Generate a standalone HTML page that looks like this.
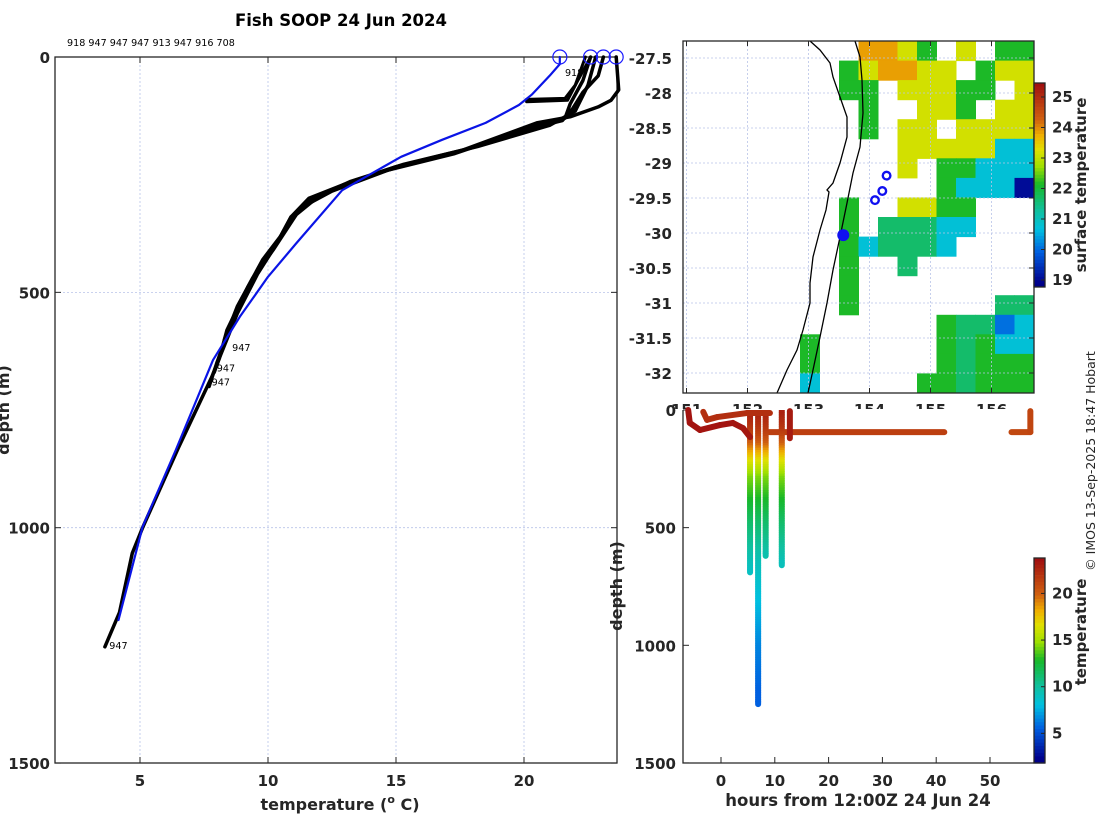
<!DOCTYPE html>
<html><head><meta charset="utf-8"><style>
html,body{margin:0;padding:0;background:#fff;}
svg{display:block;font-family:"DejaVu Sans","Liberation Sans",sans-serif;}
.tk{font-size:15px;font-weight:bold;fill:#262626;}
.ax{fill:none;stroke:#262626;stroke-width:1.3;}
.grid{stroke:#b8c4e8;stroke-width:0.8;stroke-dasharray:2,2;}
</style></head><body>
<svg id="fig" width="1100" height="820" viewBox="0 0 1100 820" xmlns="http://www.w3.org/2000/svg">
<text x="341" y="26" text-anchor="middle" font-size="16.5" font-weight="bold" fill="#000">Fish SOOP 24 Jun 2024</text>
<text x="67" y="46" font-size="9.6" fill="#000">918 947 947 947 913 947 916 708</text>
<g id="left"></g>
<g id="map"></g>
<g id="sect"></g>
<text transform="translate(1095,461) rotate(-90)" text-anchor="middle" font-size="12.5" fill="#262626">© IMOS 13-Sep-2025 18:47 Hobart</text>
</svg>
<script>
// ---------- data ----------
const tempTicks=[5,10,15,20];
const depthTicks=[0,500,1000,1500];
const blueTemp=[21.4,21.4,21.0,20.3,19.8,18.5,16.8,15.2,12.9,11.1,10.0,8.9,7.85,6.4,5.1,4.16];
const blueDepth=[0,15,40,80,102,140,176,212,283,396,467,552,644,835,998,1196];
const pATemp=[23.6,23.7,23.4,22.9,21.8,20.5,17.6,15.0,13.0,11.6,10.9,10.3,9.5,8.6,8.0,7.7];
const pADepth=[0,70,92,106,127,140,198,233,270,300,340,400,467,560,650,700];
const pBTemp=[23.1,22.9,22.3,21.9,21.5,20.0,17.3,14.7,12.5,11.3,10.5,9.8,9.2,8.4,8.1,7.9];
const pBDepth=[0,40,75,110,135,155,205,240,285,320,380,430,490,580,640,670];
const pCTemp=[22.6,22.3,21.8,21.6,20.2,17.8,15.3,13.2,11.8,10.9,10.3,9.6,8.8,7.8,6.5,5.1,4.7,4.2,3.63];
const pCDepth=[0,50,100,130,150,195,228,265,300,340,400,460,545,680,830,1000,1054,1180,1253];
const pDTemp=[22.8,22.5,22.0,21.0,18.2,15.6,13.4,12.0,11.1,10.2,9.4,8.8,8.3];
const pDDepth=[0,60,115,145,190,225,262,295,335,410,470,530,600];
const pETemp=[22.4,22.0,21.6,20.1];
const pEDepth=[0,60,88,90];
const pFTemp=[22.6,22.1,21.7,20.1];
const pFDepth=[0,50,92,95];
const surfTemp=[21.4,22.6,23.1,23.6];
const lblText=["918","947","947","947","947"];
const lblTemp=[21.6,8.6,8.0,7.8,3.8];
const lblDepth=[40,625,668,698,1258];
// map
const latTicks=[-27.5,-28,-28.5,-29,-29.5,-30,-30.5,-31,-31.5,-32];
const lonTicks=[151,152,153,154,155,156];
const sstGrid=[
".........ooyg.y.gg",
"........gyooyy.gyy",
"........gg.yyygg.y",
".........g..yyg.yy",
".........g.yy.yyyy",
"...........yyyyycc",
"...........y.ggccc",
".............gcccn",
"........g..yygg...",
"........g.GGGcc...",
"........gcGGGc....",
"........g..G......",
"........g.........",
"........g.......GG",
".............gGGbc",
"......g......gGgcc",
"......g......gGggg",
"......c.....ggGggg"];
const sstCodes={o:23.9,y:23.2,g:22.2,G:21.7,c:20.8,b:20.1,n:19.1};
const sstTicks=[19,20,21,22,23,24,25];
const stnLon=[154.28,154.21,154.09];
const stnLat=[-29.18,-29.40,-29.53];
const curLon=[153.57];const curLat=[-30.03];
// section
const hourTicks=[0,10,20,30,40,50];
const secDepthTicks=[0,500,1000,1500];
const cbTicks=[5,10,15,20];
const diveHour=[5.4,6.9,8.3,11.3];
const diveMax=[690,1250,620,660];
const trackAHour=[-6.1,-5.8,-3.9,-0.2,2.2,4.1,5.4];
const trackADepth=[0,55,85,64,55,77,115];
const trackATemp=[23.6,23.6,23.6,23.6,23.6,23.5,23.4];
const trackBHour=[-3.3,-2.6,-0.7,4.8,9.1];
const trackBDepth=[8,42,30,13,13];
const trackBTemp=[22.3,22.3,22.4,22.4,22.4];
const trackCHour=[9,41.5];const trackCDepth=[94,94];const trackCTemp=[21.6,21.6];
const trackDHour=[54,57.5,57.5];const trackDDepth=[94,94,5];const trackDTemp=[21.2,21.2,21.4];
const trackEHour=[12.8,12.8];const trackEDepth=[5,120];const trackETemp=[23.3,23.3];

// ---------- helpers ----------
const NS="http://www.w3.org/2000/svg";
function mk(tag,attrs,parent){const e=document.createElementNS(NS,tag);for(const k in attrs)e.setAttribute(k,attrs[k]);parent.appendChild(e);return e;}
const cmStops=[0,0.03,0.18,0.29,0.38,0.51,0.6,0.68,0.75,0.83,1.0];
const cmCols=[[0,0,128],[0,0,140],[0,96,224],[0,192,224],[16,192,160],[24,184,40],[160,224,0],[224,224,0],[240,176,0],[208,96,16],[160,16,16]];
function cmap(v){v=Math.max(0,Math.min(1,v));for(let i=1;i<cmStops.length;i++){if(v<=cmStops[i]){const f=(v-cmStops[i-1])/(cmStops[i]-cmStops[i-1]);const a=cmCols[i-1],b=cmCols[i];return `rgb(${Math.round(a[0]+f*(b[0]-a[0]))},${Math.round(a[1]+f*(b[1]-a[1]))},${Math.round(a[2]+f*(b[2]-a[2]))})`;}}return 'rgb(160,16,16)';}
function interp(xs,ys,x){if(x<=xs[0])return ys[0];for(let i=1;i<xs.length;i++){if(x<=xs[i]){const f=(x-xs[i-1])/(xs[i]-xs[i-1]);return ys[i-1]+f*(ys[i]-ys[i-1]);}}return ys[ys.length-1];}

// ---------- left profile plot ----------
const L=document.getElementById('left');
const X=t=>140+(t-5)*25.6, Y=d=>57+d*0.4707;
tempTicks.forEach(t=>{let g=mk('line',{x1:X(t),x2:X(t),y1:57,y2:763,class:'grid'},L);

let tx=mk('text',{x:X(t),y:786,'text-anchor':'middle',class:'tk'},L);tx.textContent=t;

mk('line',{x1:X(t),x2:X(t),y1:57,y2:63,stroke:'#262626'},L);mk('line',{x1:X(t),x2:X(t),y1:763,y2:757,stroke:'#262626'},L);});
depthTicks.forEach(d=>{if(d>0&&d<1500){let g=mk('line',{x1:55,x2:617,y1:Y(d),y2:Y(d),class:'grid'},L);
}
let tx=mk('text',{x:50,y:Y(d)+6,'text-anchor':'end',class:'tk'},L);tx.textContent=d;

mk('line',{x1:55,x2:61,y1:Y(d),y2:Y(d),stroke:'#262626'},L);mk('line',{x1:617,x2:611,y1:Y(d),y2:Y(d),stroke:'#262626'},L);});
let fr=mk('rect',{x:55,y:57,width:562,height:706,class:'ax'},L);

function prof(ts,ds,col,w,name){const pts=ts.map((t,i)=>X(t).toFixed(1)+','+Y(ds[i]).toFixed(1)).join(' ');
const p=mk('polyline',{points:pts,fill:'none',stroke:col,'stroke-width':w,'stroke-linejoin':'round','stroke-linecap':'round'},L);
}
prof(pATemp,pADepth,'#000',3.5,'profile-947-a');
prof(pBTemp,pBDepth,'#000',3.5,'profile-947-b');
prof(pCTemp,pCDepth,'#000',3.5,'profile-947-c');
prof(pDTemp,pDDepth,'#000',3.5,'profile-947-d');
prof(pETemp,pEDepth,'#000',3,'profile-913');
prof(pFTemp,pFDepth,'#000',3,'profile-916');
prof(blueTemp,blueDepth,'#0a14e6',2.2,'profile-latest');
surfTemp.forEach(t=>{const c=mk('circle',{cx:X(t),cy:Y(0),r:7,fill:'none',stroke:'#1a1aff','stroke-width':1.2},L);
});
lblText.forEach((s,i)=>{const tx=mk('text',{x:X(lblTemp[i]),y:Y(lblDepth[i]),'font-size':9.6,fill:'#000'},L);tx.textContent=s;
});
let xt=mk('text',{x:340,y:810,'text-anchor':'middle','font-size':16,'font-weight':'bold',fill:'#262626'},L);
xt.innerHTML='temperature (<tspan font-size="11" dy="-7">o</tspan><tspan dy="7"> C)</tspan>';

let yt=mk('text',{transform:'translate(9,410) rotate(-90)','text-anchor':'middle','font-size':16,'font-weight':'bold',fill:'#262626'},L);yt.textContent='depth (m)';


// ---------- map ----------
const M=document.getElementById('map');
const LX=lon=>686.5+(lon-151)*61, LY=lat=>58+(-27.5-lat)*70;
const mx0=683,my0=41,mw=351,mh=352;
const cw=mw/18,ch=mh/18;
const sstV=t=>(t-18.77)/(25.46-18.77);
sstGrid.forEach((row,r)=>{[...row].forEach((c,k)=>{if(c==='.')return;
const rc=mk('rect',{x:(mx0+k*cw).toFixed(1),y:(my0+r*ch).toFixed(1),width:(cw+0.5).toFixed(1),height:(ch+0.5).toFixed(1),fill:cmap(sstV(sstCodes[c]))},M);
});});
latTicks.forEach(l=>{let g=mk('line',{x1:mx0,x2:mx0+mw,y1:LY(l),y2:LY(l),class:'grid'},M);

let tx=mk('text',{x:672,y:LY(l)+6,'text-anchor':'end',class:'tk'},M);tx.textContent=l;

mk('line',{x1:mx0+mw,x2:mx0+mw-5,y1:LY(l),y2:LY(l),stroke:'#262626'},M);});
const defs=mk('defs',{},M);const cp=mk('clipPath',{id:'lonclip'},defs);mk('rect',{x:660,y:395,width:400,height:14},cp);
lonTicks.forEach(l=>{let g=mk('line',{x1:LX(l),x2:LX(l),y1:my0,y2:my0+mh,class:'grid'},M);

mk('line',{x1:LX(l),x2:LX(l),y1:my0,y2:my0+5,stroke:'#262626'},M);mk('line',{x1:LX(l),x2:LX(l),y1:my0+mh,y2:my0+mh-5,stroke:'#262626'},M);
let tx=mk('text',{x:LX(l),y:415,'text-anchor':'middle',class:'tk','clip-path':'url(#lonclip)'},M);tx.textContent=l;
});
let c1=mk('polyline',{points:'810,41 820,50 830,63 833,77 840,97 847,117 847,137 840,163 833,183 827,190 829,192 826,210 820,230 813,257 810,283 810,303 803,330 797,350 787,370 777,393',fill:'none',stroke:'#000','stroke-width':1.3},M);

let c2=mk('polyline',{points:'855,41 860,57 862,80 863,113 860,147 853,173 847,203 840,237 833,270 827,303 820,337 813,370 808,393',fill:'none',stroke:'#000','stroke-width':1.3},M);

stnLon.forEach((lo,i)=>{const c=mk('circle',{cx:LX(lo),cy:LY(stnLat[i]),r:3.8,fill:'none',stroke:'#1010f0','stroke-width':2.4},M);
});
curLon.forEach((lo,i)=>{const c=mk('circle',{cx:LX(lo),cy:LY(curLat[i]),r:6,fill:'#1010f0'},M);
});
let mf=mk('rect',{x:mx0,y:my0,width:mw,height:mh,class:'ax'},M);

// sst colorbar
const cbY=v=>97+(25-v)*30.5;
for(let i=0;i<60;i++){const v0=25.46-i*(25.46-18.77)/60;const r=mk('rect',{x:1034,y:cbY(v0).toFixed(1),width:11,height:3.8,fill:cmap(sstV(v0))},M);
}
mk('rect',{x:1034,y:83,width:11,height:204,class:'ax'},M);
sstTicks.forEach(v=>{let tx=mk('text',{x:1052,y:cbY(v)+5,class:'tk'},M);tx.textContent=v;

mk('line',{x1:1045,x2:1041,y1:cbY(v),y2:cbY(v),stroke:'#262626'},M);});
let st=mk('text',{transform:'translate(1086,185) rotate(-90)','text-anchor':'middle','font-size':15,'font-weight':'bold',fill:'#262626'},M);st.textContent='surface temperature';


// ---------- section ----------
const S=document.getElementById('sect');
const HX=h=>721+h*5.38, HY=d=>410+d*0.2353;
const tcol=t=>cmap((t-1.8)/(23.8-1.8));
hourTicks.forEach(h=>{let tx=mk('text',{x:HX(h),y:786,'text-anchor':'middle',class:'tk'},S);tx.textContent=h;

mk('line',{x1:HX(h),x2:HX(h),y1:763,y2:757,stroke:'#262626'},S);});
secDepthTicks.forEach(d=>{let tx=mk('text',{x:676,y:HY(d)+6,'text-anchor':'end',class:'tk'},S);tx.textContent=d;

mk('line',{x1:683,x2:689,y1:HY(d),y2:HY(d),stroke:'#262626'},S);});
mk('polyline',{points:'683,410 683,763 1034,763',class:'ax'},S);
function track(hs,ds,ts,name){for(let i=1;i<hs.length;i++){const l=mk('line',{x1:HX(hs[i-1]),y1:HY(ds[i-1]),x2:HX(hs[i]),y2:HY(ds[i]),stroke:tcol((ts[i-1]+ts[i])/2),'stroke-width':6,'stroke-linecap':'round'},S);
}}
track(trackCHour,trackCDepth,trackCTemp,'surface-track');
track(trackDHour,trackDDepth,trackDTemp,'surface-track');
diveHour.forEach((h,i)=>{const n=Math.ceil(diveMax[i]/10);for(let k=0;k<n;k++){const d0=k*10,d1=Math.min(diveMax[i],d0+12);
const t=interp(blueDepth,blueTemp,d0+5);const l=mk('line',{x1:HX(h),x2:HX(h),y1:HY(d0),y2:HY(d1),stroke:tcol(Math.min(t+1.6,23.2)),'stroke-width':6,'stroke-linecap':k==n-1?'round':'butt'},S);
}});
track(trackBHour,trackBDepth,trackBTemp,'surface-track');
track(trackAHour,trackADepth,trackATemp,'surface-track');
track(trackEHour,trackEDepth,trackETemp,'surface-track');
const cb2=v=>780-v*9.33;
for(let i=0;i<60;i++){const v0=23.8-i*(22/60);const r=mk('rect',{x:1034,y:cb2(v0).toFixed(1),width:11,height:3.8,fill:tcol(v0)},S);
}
mk('rect',{x:1034,y:558,width:11,height:205,class:'ax'},S);
cbTicks.forEach(v=>{let tx=mk('text',{x:1052,y:cb2(v)+5,class:'tk'},S);tx.textContent=v;

mk('line',{x1:1045,x2:1041,y1:cb2(v),y2:cb2(v),stroke:'#262626'},S);});
let ct=mk('text',{transform:'translate(1086,632) rotate(-90)','text-anchor':'middle','font-size':15,'font-weight':'bold',fill:'#262626'},S);ct.textContent='temperature';

let ht=mk('text',{x:858,y:806,'text-anchor':'middle','font-size':16.5,'font-weight':'bold',fill:'#262626'},S);ht.textContent='hours from 12:00Z 24 Jun 24';

let dt=mk('text',{transform:'translate(622,586) rotate(-90)','text-anchor':'middle','font-size':16,'font-weight':'bold',fill:'#262626'},S);dt.textContent='depth (m)';

</script>
</body></html>
